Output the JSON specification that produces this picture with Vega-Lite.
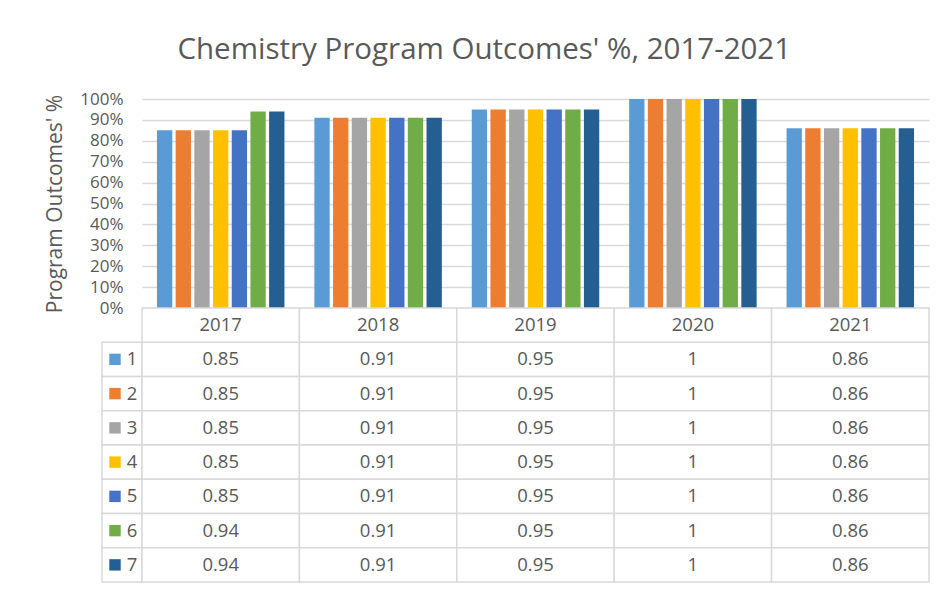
{
  "$schema": "https://vega.github.io/schema/vega-lite/v6.json",
  "background": "white",
  "padding": {"left": 44, "top": 34, "right": 5, "bottom": 5},
  "autosize": {"type": "pad"},
  "title": {
    "text": "Chemistry Program Outcomes' %, 2017-2021",
    "font": "Open Sans",
    "fontSize": 29.5,
    "fontWeight": "normal",
    "color": "#595959",
    "anchor": "middle",
    "offset": 25,
    "dx": -3
  },
  "datasets": {
    "rows": [
      {"year": "2017", "series": "1", "value": 0.85},
      {"year": "2017", "series": "2", "value": 0.85},
      {"year": "2017", "series": "3", "value": 0.85},
      {"year": "2017", "series": "4", "value": 0.85},
      {"year": "2017", "series": "5", "value": 0.85},
      {"year": "2017", "series": "6", "value": 0.94},
      {"year": "2017", "series": "7", "value": 0.94},
      {"year": "2018", "series": "1", "value": 0.91},
      {"year": "2018", "series": "2", "value": 0.91},
      {"year": "2018", "series": "3", "value": 0.91},
      {"year": "2018", "series": "4", "value": 0.91},
      {"year": "2018", "series": "5", "value": 0.91},
      {"year": "2018", "series": "6", "value": 0.91},
      {"year": "2018", "series": "7", "value": 0.91},
      {"year": "2019", "series": "1", "value": 0.95},
      {"year": "2019", "series": "2", "value": 0.95},
      {"year": "2019", "series": "3", "value": 0.95},
      {"year": "2019", "series": "4", "value": 0.95},
      {"year": "2019", "series": "5", "value": 0.95},
      {"year": "2019", "series": "6", "value": 0.95},
      {"year": "2019", "series": "7", "value": 0.95},
      {"year": "2020", "series": "1", "value": 1},
      {"year": "2020", "series": "2", "value": 1},
      {"year": "2020", "series": "3", "value": 1},
      {"year": "2020", "series": "4", "value": 1},
      {"year": "2020", "series": "5", "value": 1},
      {"year": "2020", "series": "6", "value": 1},
      {"year": "2020", "series": "7", "value": 1},
      {"year": "2021", "series": "1", "value": 0.86},
      {"year": "2021", "series": "2", "value": 0.86},
      {"year": "2021", "series": "3", "value": 0.86},
      {"year": "2021", "series": "4", "value": 0.86},
      {"year": "2021", "series": "5", "value": 0.86},
      {"year": "2021", "series": "6", "value": 0.86},
      {"year": "2021", "series": "7", "value": 0.86}
    ]
  },
  "columns": 2,
  "spacing": 0,
  "bounds": "flush",
  "align": "each",
  "concat": [
    {
      "width": 40,
      "height": 209,
      "data": {"values": []},
      "mark": "point",
      "encoding": {}
    },
    {
      "width": 787,
      "height": 209,
      "data": {"name": "rows"},
      "mark": {"type": "bar"},
      "encoding": {
        "x": {
          "field": "year",
          "type": "nominal",
          "scale": {"paddingInner": 0.19, "paddingOuter": 0.095},
          "axis": null
        },
        "xOffset": {
          "field": "series",
          "type": "nominal",
          "scale": {"paddingInner": 0.18, "paddingOuter": 0}
        },
        "y": {
          "field": "value",
          "type": "quantitative",
          "scale": {"domain": [0, 1]},
          "axis": {
            "title": "Program Outcomes' %",
            "values": [0, 0.1, 0.2, 0.3, 0.4, 0.5, 0.6, 0.7, 0.8, 0.9, 1],
            "format": ".0%",
            "domain": false,
            "ticks": false,
            "tickSize": 0,
            "labelPadding": 19,
            "labelFont": "Open Sans",
            "labelFontSize": 17,
            "labelColor": "#595959",
            "titleFont": "Open Sans",
            "titleFontSize": 21,
            "titleFontWeight": "normal",
            "titleColor": "#595959",
            "titlePadding": 14,
            "grid": true,
            "gridColor": "#d9d9d9",
            "gridWidth": 1.5
          }
        },
        "color": {
          "field": "series",
          "type": "nominal",
          "scale": {
            "domain": ["1", "2", "3", "4", "5", "6", "7"],
            "range": ["#5B9BD5", "#ED7D31", "#A5A5A5", "#FFC000", "#4472C4", "#70AD47", "#255E91"]
          },
          "legend": null
        }
      }
    },
    {
      "width": 40,
      "height": 274,
      "data": {"name": "rows"},
      "transform": [{"filter": "datum.year == '2017'"}],
      "encoding": {
        "y": {
          "field": "series",
          "type": "nominal",
          "scale": {"domain": ["Year", "1", "2", "3", "4", "5", "6", "7"], "paddingInner": 0, "paddingOuter": 0},
          "axis": null
        }
      },
      "layer": [
        {
          "mark": {"type": "rect", "fill": "white", "stroke": "#d9d9d9", "strokeWidth": 1.5}
        },
        {
          "mark": {"type": "point", "shape": "square", "filled": true, "size": 130, "opacity": 1, "xOffset": -7},
          "encoding": {
            "color": {
              "field": "series",
              "type": "nominal",
              "scale": {
                "domain": ["1", "2", "3", "4", "5", "6", "7"],
                "range": ["#5B9BD5", "#ED7D31", "#A5A5A5", "#FFC000", "#4472C4", "#70AD47", "#255E91"]
              },
              "legend": null
            }
          }
        },
        {
          "mark": {"type": "text", "font": "Open Sans", "fontSize": 18.5, "color": "#595959", "dx": 10, "baseline": "middle"},
          "encoding": {"text": {"field": "series", "type": "nominal"}}
        }
      ]
    },
    {
      "width": 787,
      "height": 274,
      "data": {"name": "rows"},
      "encoding": {
        "x": {
          "field": "year",
          "type": "nominal",
          "scale": {"paddingInner": 0, "paddingOuter": 0},
          "axis": null
        }
      },
      "layer": [
        {
          "mark": {"type": "rect", "fill": "white", "stroke": "#d9d9d9", "strokeWidth": 1.5},
          "encoding": {
            "y": {
              "field": "series",
              "type": "nominal",
              "scale": {"domain": ["Year", "1", "2", "3", "4", "5", "6", "7"], "paddingInner": 0, "paddingOuter": 0},
              "axis": null
            }
          }
        },
        {
          "transform": [{"filter": "datum.series == '1'"}],
          "mark": {"type": "rect", "fill": "white", "stroke": "#d9d9d9", "strokeWidth": 1.5},
          "encoding": {"y": {"datum": "Year"}}
        },
        {
          "mark": {"type": "text", "font": "Open Sans", "fontSize": 18.5, "color": "#595959", "baseline": "middle"},
          "encoding": {
            "y": {"field": "series", "type": "nominal"},
            "text": {"field": "value", "type": "nominal"}
          }
        },
        {
          "transform": [{"filter": "datum.series == '1'"}],
          "mark": {"type": "text", "font": "Open Sans", "fontSize": 18.5, "color": "#595959", "baseline": "middle"},
          "encoding": {
            "y": {"datum": "Year"},
            "text": {"field": "year", "type": "nominal"}
          }
        }
      ]
    }
  ],
  "config": {
    "view": {"stroke": null},
    "font": "Open Sans"
  }
}
